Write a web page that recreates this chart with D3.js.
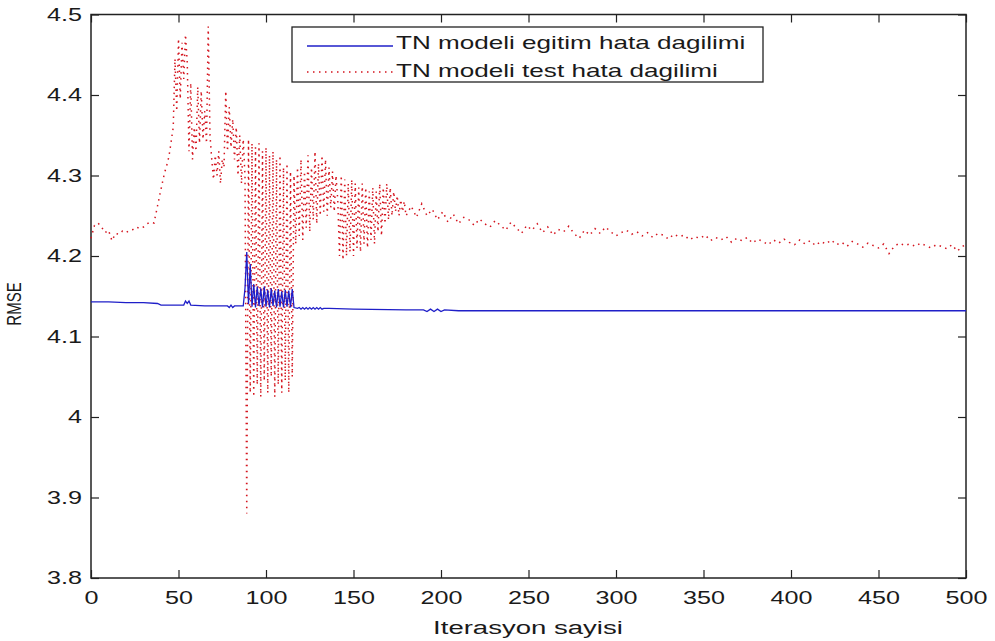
<!DOCTYPE html>
<html>
<head>
<meta charset="UTF-8">
<title>RMSE - Iterasyon sayisi</title>
<style>
  body { margin: 0; background: #fff; }
  text { font-family: "Liberation Sans", Arial, sans-serif; fill: #1a1a1a; }
  .tick line { stroke: #222; stroke-width: 1.2; }
  .domain { display: none; }
</style>
<script src="https://d3js.org/d3.v7.min.js"></script>
</head>
<body>
<div id="chart"></div>
<script>
// axis ticks
const xTicks = [0, 50, 100, 150, 200, 250, 300, 350, 400, 450, 500];
const yTicks = [3.8, 3.9, 4.0, 4.1, 4.2, 4.3, 4.4, 4.5];
const seriesNames = ["TN modeli egitim hata dagilimi", "TN modeli test hata dagilimi"];

// training error (blue, solid)
const trainIter = [0, 10, 20, 30, 38, 40, 50, 53, 54, 55, 56, 57, 65, 75, 78, 79, 80, 81, 82, 87,
  88, 89, 90, 91, 92, 93, 94, 95, 96, 97, 98, 99, 100, 101, 102, 103, 104, 105, 106, 107, 108, 109,
  110, 111, 112, 113, 114, 115, 116,
  118, 119, 120, 121, 122, 123, 124, 125, 126, 127, 128, 129, 130, 131, 132, 133,
  136, 150, 180, 190, 192, 194, 196, 198, 200, 202, 210, 300, 400, 500];
const trainRmse = [4.143, 4.143, 4.142, 4.142, 4.141, 4.139, 4.139, 4.139, 4.144, 4.141, 4.144, 4.139, 4.138, 4.138, 4.138, 4.136, 4.139, 4.136, 4.138, 4.138,
  4.160, 4.205, 4.140, 4.190, 4.137, 4.165, 4.136, 4.162, 4.138, 4.160, 4.136, 4.162, 4.137, 4.158, 4.136, 4.160, 4.138, 4.157, 4.136, 4.159, 4.137, 4.156,
  4.136, 4.158, 4.137, 4.157, 4.136, 4.159, 4.136,
  4.135, 4.136, 4.134, 4.136, 4.134, 4.136, 4.134, 4.136, 4.134, 4.136, 4.134, 4.136, 4.134, 4.136, 4.134, 4.135,
  4.135, 4.134, 4.133, 4.133, 4.131, 4.134, 4.131, 4.134, 4.131, 4.133, 4.132, 4.132, 4.132, 4.132];

// test error (red, dotted): iterations 0-44 every 2
const testRmseEarly = [4.222, 4.238, 4.241, 4.236, 4.229, 4.232, 4.219, 4.228, 4.227, 4.231, 4.229, 4.232,
  4.233, 4.236, 4.234, 4.236, 4.240, 4.242, 4.241, 4.262, 4.283, 4.303, 4.318];
// iterations 45-180 every 1
const testRmseMid = [
  4.330, 4.345, 4.360, 4.445, 4.380, 4.470, 4.395, 4.465, 4.420, 4.475,
  4.440, 4.330, 4.415, 4.320, 4.360, 4.330, 4.410, 4.340, 4.405, 4.345,
  4.380, 4.340, 4.485, 4.350, 4.320, 4.295, 4.325, 4.300, 4.330, 4.290,
  4.320, 4.310, 4.405, 4.330, 4.385, 4.335, 4.370, 4.320, 4.360, 4.300,
  4.350, 4.290, 4.345, 4.300, 3.880, 4.345, 4.030, 4.340, 4.025, 4.335,
  4.040, 4.340, 4.025, 4.330, 4.045, 4.335, 4.030, 4.325, 4.050, 4.330,
  4.025, 4.320, 4.040, 4.325, 4.030, 4.310, 4.045, 4.315, 4.030, 4.305,
  4.050, 4.300, 4.215, 4.310, 4.225, 4.320, 4.220, 4.305, 4.235, 4.325,
  4.230, 4.310, 4.245, 4.330, 4.240, 4.315, 4.250, 4.325, 4.255, 4.320,
  4.250, 4.310, 4.260, 4.305, 4.255, 4.300, 4.270, 4.200, 4.300, 4.195,
  4.295, 4.200, 4.290, 4.205, 4.295, 4.200, 4.290, 4.210, 4.285, 4.205,
  4.290, 4.215, 4.285, 4.210, 4.280, 4.220, 4.285, 4.215, 4.280, 4.230,
  4.290, 4.225, 4.285, 4.240, 4.290, 4.245, 4.285, 4.250, 4.280, 4.255,
  4.275, 4.250, 4.270, 4.255, 4.268, 4.250];
// iterations 183-498 every 3, then 500
const testRmseLate = [
  4.262, 4.248, 4.265, 4.250, 4.258, 4.245, 4.255, 4.242, 4.252, 4.240,
  4.248, 4.245, 4.238, 4.246, 4.240, 4.236, 4.244, 4.238, 4.232, 4.242,
  4.235, 4.228, 4.238, 4.232, 4.240, 4.229, 4.236, 4.226, 4.233, 4.230,
  4.237, 4.228, 4.222, 4.232, 4.226, 4.234, 4.228, 4.236, 4.230, 4.225,
  4.229, 4.232, 4.227, 4.230, 4.225, 4.229, 4.223, 4.228, 4.226, 4.221,
  4.227, 4.224, 4.226, 4.220, 4.224, 4.222, 4.226, 4.219, 4.223, 4.220,
  4.224, 4.217, 4.222, 4.219, 4.223, 4.216, 4.221, 4.218, 4.214, 4.220,
  4.216, 4.221, 4.217, 4.214, 4.220, 4.215, 4.219, 4.213, 4.218, 4.215,
  4.220, 4.214, 4.217, 4.212, 4.218, 4.215, 4.211, 4.216, 4.213, 4.210,
  4.215, 4.203, 4.212, 4.216, 4.213, 4.215, 4.212, 4.216, 4.213, 4.210,
  4.214, 4.212, 4.209, 4.214, 4.206, 4.212, 4.214];

const trainData = trainIter.map((it, i) => ({it: it, v: trainRmse[i]})).filter(d => d.v !== undefined);
const testData = []
  .concat(testRmseEarly.map((v, i) => ({it: i * 2, v: v})))
  .concat(testRmseMid.map((v, i) => ({it: 45 + i, v: v})))
  .concat(testRmseLate.map((v, i) => ({it: Math.min(183 + i * 3, 500), v: v})));

const W = 995, H = 641;
const margin = {top: 14.5, right: 29, bottom: 63, left: 91};
const width = W - margin.left - margin.right;
const height = H - margin.top - margin.bottom;
const sx = 1.4;   // text in the source is stretched sideways

const svg = d3.select("#chart").append("svg")
    .attr("width", W)
    .attr("height", H);
const g = svg.append("g")
    .attr("transform", `translate(${margin.left},${margin.top})`);

const x = d3.scaleLinear().domain([0, 500]).range([0, width]);
const y = d3.scaleLinear().domain([3.8, 4.5]).range([height, 0]);

// axes, ticks inward on all four sides
const xb = g.append("g")
    .attr("transform", `translate(0,${height})`)
    .call(d3.axisBottom(x).tickValues(xTicks).tickSizeInner(-8).tickSizeOuter(0).tickPadding(13));
xb.selectAll("text")
    .attr("font-size", "18px")
    .attr("transform", `scale(${sx},1)`);

const yl = g.append("g")
    .call(d3.axisLeft(y).tickValues(yTicks).tickSizeInner(-8).tickSizeOuter(0)
        .tickFormat(d => d3.format(".1~f")(d)));
yl.selectAll("text")
    .attr("font-size", "18px")
    .attr("x", -9 / sx)
    .attr("transform", `scale(${sx},1)`);

g.append("g")
    .call(d3.axisTop(x).tickValues(xTicks).tickSizeInner(-8).tickSizeOuter(0).tickFormat(""));
g.append("g")
    .attr("transform", `translate(${width},0)`)
    .call(d3.axisRight(y).tickValues(yTicks).tickSizeInner(-8).tickSizeOuter(0).tickFormat(""));

g.append("rect")
    .attr("width", width)
    .attr("height", height)
    .attr("fill", "none")
    .attr("stroke", "#222")
    .attr("stroke-width", 1.5);

// series
const line = d3.line().x(d => x(d.it)).y(d => y(d.v));

g.append("path")
    .datum(testData)
    .attr("fill", "none")
    .attr("stroke", "#d4141e")
    .attr("stroke-width", 1.5)
    .attr("stroke-dasharray", "1.5,4.5")
    .attr("d", line);

g.append("path")
    .datum(trainData)
    .attr("fill", "none")
    .attr("stroke", "#1f1fc8")
    .attr("stroke-width", 1.3)
    .attr("d", line);

// axis labels
svg.append("text")
    .attr("x", 528 / 1.45)
    .attr("y", 634)
    .attr("text-anchor", "middle")
    .attr("font-size", "19px")
    .attr("transform", "scale(1.45,1)")
    .text("Iterasyon sayisi");

svg.append("text")
    .attr("transform", "translate(21,304) rotate(-90) scale(1,1.3)")
    .attr("text-anchor", "middle")
    .attr("font-size", "15px")
    .text("RMSE");

// legend
const legend = svg.append("g");
legend.append("rect")
    .attr("x", 292).attr("y", 27)
    .attr("width", 471).attr("height", 55)
    .attr("fill", "#fff")
    .attr("stroke", "#222")
    .attr("stroke-width", 1.3);

const legendStyles = [
    {stroke: "#1f1fc8", dash: null, width: 1.3},
    {stroke: "#d4141e", dash: "1.5,4.5", width: 1.5}
];
seriesNames.forEach((name, i) => {
    const ly = 46 + i * 26;
    legend.append("line")
        .attr("x1", 307).attr("x2", 393)
        .attr("y1", ly).attr("y2", ly)
        .attr("stroke", legendStyles[i].stroke)
        .attr("stroke-width", legendStyles[i].width)
        .attr("stroke-dasharray", legendStyles[i].dash);
    legend.append("text")
        .attr("x", 396 / 1.45)
        .attr("y", i ? 77 : 49)
        .attr("font-size", "18px")
        .attr("transform", "scale(1.45,1)")
        .text(name);
});
</script>
</body>
</html>
